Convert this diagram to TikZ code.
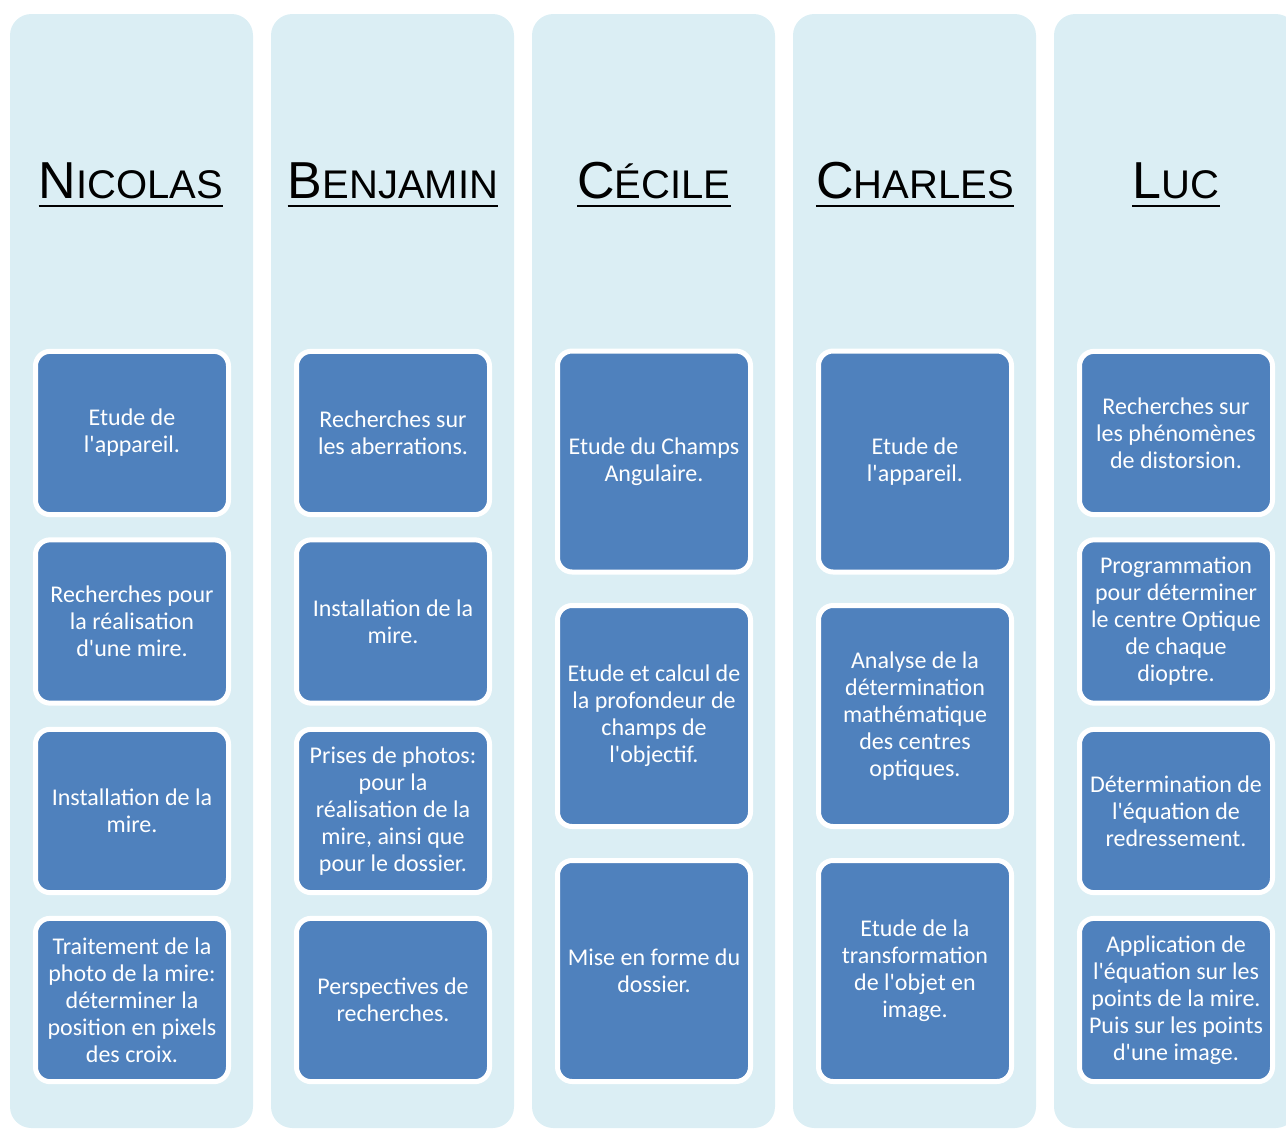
\documentclass[tikz,border=0pt]{standalone}
\usepackage{fontspec}
\newfontfamily\boxfont{Carlito}
\newfontfamily\headfont{Liberation Sans}
\definecolor{lanebg}{HTML}{DBEEF4}
\definecolor{taskblue}{HTML}{4F81BD}
% fake small caps for the names
\newcommand\headsc[2]{{\fontsize{39}{42}\selectfont #1}{\fontsize{30}{32}\selectfont #2}}

\begin{document}
\begin{tikzpicture}[x=0.75pt, y=-0.75pt,
    lane/.style={fill=lanebg, rounded corners=16pt, minimum width=182.25pt,
                 minimum height=835.5pt, inner sep=0pt},
    head/.style={inner sep=0pt, font=\headfont},
    task/.style={draw=white, line width=3.75pt, fill=taskblue, rounded corners=11pt,
                 minimum width=144.75pt, minimum height=122.5pt, inner sep=0pt,
                 align=center, text=white, font=\boxfont\fontsize{18}{20.25}\selectfont},
    tall/.style={task, minimum height=165.75pt}]
    \useasboundingbox (0, 0) rectangle (1286, 1129);
    \clip (0, 0) rectangle (1286, 1129);

    % Lanes
    \node [lane] (lane1) at (131.5, 571) {};
    \node [lane] (lane2) at (392.5, 571) {};
    \node [lane] (lane3) at (653.5, 571) {};
    \node [lane] (lane4) at (914.5, 571) {};
    \node [lane] (lane5) at (1175.5, 571) {};

    % Names
    \path (131, 198) node [head, anchor=base] (h1) {\headsc{N}{ICOLAS}};
    \path (393, 198) node [head, anchor=base] (h2) {\headsc{B}{ENJAMIN}};
    \path (654, 198) node [head, anchor=base] (h3) {\headsc{C}{ÉCILE}};
    \path (915, 198) node [head, anchor=base] (h4) {\headsc{C}{HARLES}};
    \path (1176, 198) node [head, anchor=base] (h5) {\headsc{L}{UC}};
    \draw [line width=2.2pt] ([yshift=-6pt]h1.base west) -- ([yshift=-6pt]h1.base east);
    \draw [line width=2.2pt] ([yshift=-6pt]h2.base west) -- ([yshift=-6pt]h2.base east);
    \draw [line width=2.2pt] ([yshift=-6pt]h3.base west) -- ([yshift=-6pt]h3.base east);
    \draw [line width=2.2pt] ([yshift=-6pt]h4.base west) -- ([yshift=-6pt]h4.base east);
    \draw [line width=2.2pt] ([yshift=-6pt]h5.base west) -- ([yshift=-6pt]h5.base east);

    % Nicolas
    \node [task] (n1) at (132, 433) {Etude de\\l'appareil.};
    \node [task] (n2) at (132, 621.5) {Recherches pour\\la réalisation\\d'une mire.};
    \node [task] (n3) at (132, 811) {Installation de la\\mire.};
    \node [task] (n4) at (132, 1000) {Traitement de la\\photo de la mire:\\déterminer la\\position en pixels\\des croix.};

    % Benjamin
    \node [task] (b1) at (393, 433) {Recherches sur\\les aberrations.};
    \node [task] (b2) at (393, 621.5) {Installation de la\\mire.};
    \node [task] (b3) at (393, 811) {Prises de photos:\\pour la\\réalisation de la\\mire, ainsi que\\pour le dossier.};
    \node [task] (b4) at (393, 1000) {Perspectives de\\recherches.};

    % Cecile
    \node [tall] (c1) at (654, 461.5) {Etude du Champs\\Angulaire.};
    \node [tall] (c2) at (654, 716) {Etude et calcul de\\la profondeur de\\champs de\\l'objectif.};
    \node [tall] (c3) at (654, 971) {Mise en forme du\\dossier.};

    % Charles
    \node [tall] (ch1) at (915, 461.5) {Etude de\\l'appareil.};
    \node [tall] (ch2) at (915, 716) {Analyse de la\\détermination\\mathématique\\des centres\\optiques.};
    \node [tall] (ch3) at (915, 971) {Etude de la\\transformation\\de l'objet en\\image.};

    % Luc
    \node [task] (l1) at (1176, 433) {Recherches sur\\les phénomènes\\de distorsion.};
    \node [task] (l2) at (1176, 621.5) {Programmation\\pour déterminer\\le centre Optique\\de chaque\\dioptre.};
    \node [task] (l3) at (1176, 811) {Détermination de\\l'équation de\\redressement.};
    \node [task] (l4) at (1176, 1000) {Application de\\l'équation sur les\\points de la mire.\\Puis sur les points\\d'une image.};

\end{tikzpicture}
\end{document}
